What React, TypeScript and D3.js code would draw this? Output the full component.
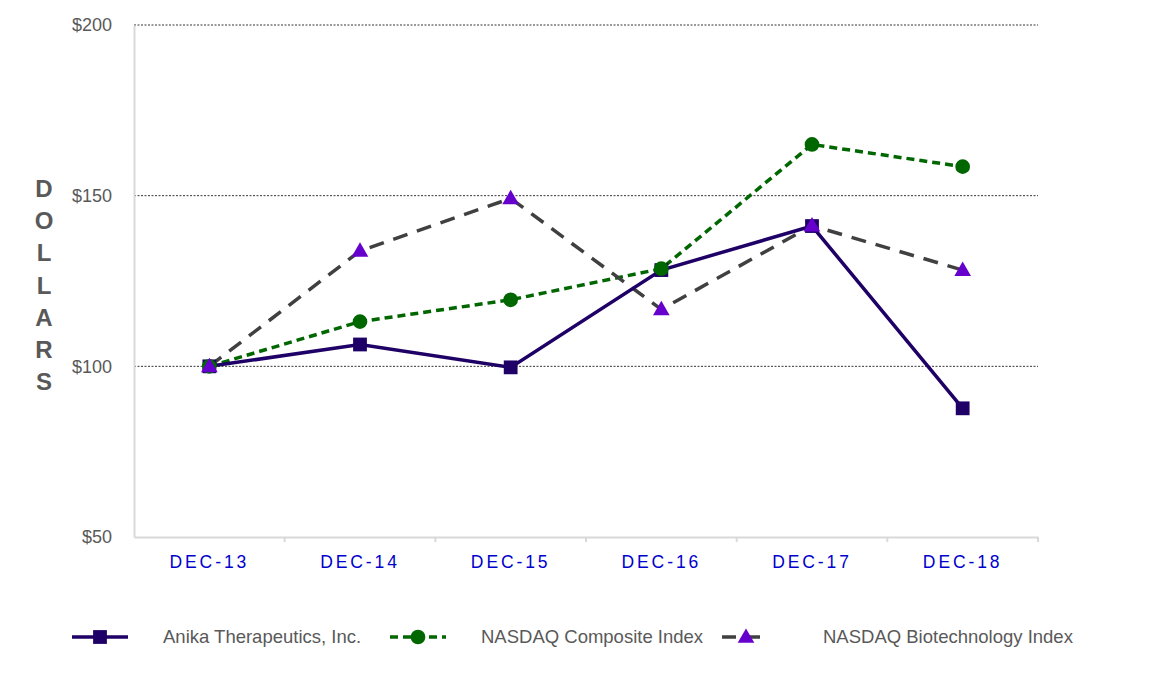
import { useEffect, useRef } from 'react';
import * as d3 from 'd3';

const categories = ['DEC-13', 'DEC-14', 'DEC-15', 'DEC-16', 'DEC-17', 'DEC-18'];
const anika = [100, 106.4, 99.7, 128.2, 141.1, 87.7];
const composite = [100, 113.1, 119.5, 128.6, 165.0, 158.5];
const biotech = [100, 133.8, 149.2, 116.7, 141.2, 128.2];
const yTicks = [50, 100, 150, 200];
const seriesNames = ['Anika Therapeutics, Inc.', 'NASDAQ Composite Index', 'NASDAQ Biotechnology Index'];

const W = 1154;
const H = 693;
const M = { top: 25, right: 116, bottom: 156, left: 134 };

const App = () => {
  const svgElem = useRef<SVGSVGElement>(null);

  useEffect(() => {
    if (!svgElem.current) return;
    const svg = d3.select(svgElem.current);
    svg.selectAll('*').remove();

    const x = d3
      .scaleBand()
      .domain(categories)
      .range([M.left, W - M.right]);
    const y = d3
      .scaleLinear()
      .domain([50, 200])
      .range([H - M.bottom, M.top]);

    const font = 'Arial, "Liberation Sans", sans-serif';

    // gridlines
    svg
      .append('g')
      .selectAll('line')
      .data(yTicks.filter((t) => t > 50))
      .join('line')
      .attr('x1', M.left)
      .attr('x2', W - M.right)
      .attr('y1', (d) => y(d))
      .attr('y2', (d) => y(d))
      .attr('stroke', '#000')
      .attr('stroke-width', 0.8)
      .attr('stroke-dasharray', '2,1.5');

    // y axis
    const yAxis = svg
      .append('g')
      .attr('transform', `translate(${M.left},0)`)
      .call(d3.axisLeft(y).tickValues(yTicks).tickSize(0).tickPadding(22).tickFormat((d) => `$${d}`));
    yAxis.select('.domain').attr('stroke', '#d9d9d9').attr('stroke-width', 2);
    yAxis
      .selectAll('text')
      .attr('fill', '#595959')
      .style('font-family', font)
      .style('font-size', '18px');

    // x axis
    const xAxis = svg
      .append('g')
      .attr('transform', `translate(0,${y(50)})`)
      .call(d3.axisBottom(x).tickSize(0).tickPadding(19));
    xAxis.select('.domain').attr('stroke', '#d9d9d9').attr('stroke-width', 2);
    xAxis
      .selectAll('text')
      .attr('fill', '#0000cc')
      .style('font-family', font)
      .style('font-size', '17.5px')
      .style('letter-spacing', '2.9px');
    // tick marks at category boundaries
    xAxis
      .append('g')
      .selectAll('line')
      .data(categories)
      .join('line')
      .attr('x1', (d) => (x(d) as number) + x.bandwidth())
      .attr('x2', (d) => (x(d) as number) + x.bandwidth())
      .attr('y1', 0)
      .attr('y2', 5)
      .attr('stroke', '#d9d9d9')
      .attr('stroke-width', 2);

    // y axis title
    svg
      .append('g')
      .selectAll('text')
      .data('DOLLARS'.split(''))
      .join('text')
      .attr('x', 44)
      .attr('y', (_, i) => 197 + i * 32.2)
      .attr('text-anchor', 'middle')
      .attr('fill', '#595959')
      .style('font-family', font)
      .style('font-size', '24px')
      .style('font-weight', 'bold')
      .text((d) => d);

    const cx = (i: number) => (x(categories[i]) as number) + x.bandwidth() / 2;
    const line = d3
      .line<number>()
      .x((_, i) => cx(i))
      .y((d) => y(d));

    const styles = [
      { data: anika, stroke: '#1f0066', dash: null as string | null },
      { data: composite, stroke: '#006600', dash: '8,5' },
      { data: biotech, stroke: '#404040', dash: '15,10' },
    ];

    const square = d3.symbol(d3.symbolSquare, 190);
    const circle = d3.symbol(d3.symbolCircle, 170);
    const triangle = d3.symbol(d3.symbolTriangle, 120);

    const drawMarker = (g: d3.Selection<SVGGElement, unknown, null, undefined>, k: number, px: number, py: number) => {
      if (k === 0) {
        g.append('path').attr('d', square()).attr('transform', `translate(${px},${py})`).attr('fill', '#1f0066');
      } else if (k === 1) {
        g.append('path').attr('d', circle()).attr('transform', `translate(${px},${py})`).attr('fill', '#006600');
      } else {
        g.append('path').attr('d', triangle()).attr('transform', `translate(${px},${py + 1})`).attr('fill', '#6600cc');
      }
    };

    // lines
    [1, 2, 0].forEach((k) => {
      const s = styles[k];
      svg
        .append('path')
        .attr('d', line(s.data))
        .attr('fill', 'none')
        .attr('stroke', s.stroke)
        .attr('stroke-width', 3.5)
        .attr('stroke-dasharray', s.dash);
    });

    // markers
    const mg = svg.append('g');
    [0, 1, 2].forEach((k) => {
      styles[k].data.forEach((v, i) => drawMarker(mg, k, cx(i), y(v)));
    });

    // legend
    const legendY = 637;
    const legendItems = [
      { x0: 72, x1: 128, mx: 100, tx: 163 },
      { x0: 390, x1: 446, mx: 418, tx: 481 },
      { x0: 722, x1: 762, mx: 746, tx: 823 },
    ];
    const lg = svg.append('g');
    legendItems.forEach((it, k) => {
      lg.append('line')
        .attr('x1', it.x0)
        .attr('x2', it.x1)
        .attr('y1', legendY)
        .attr('y2', legendY)
        .attr('stroke', styles[k].stroke)
        .attr('stroke-width', 3.5)
        .attr('stroke-dasharray', k === 1 ? '8,5' : k === 2 ? '14,10' : null);
      drawMarker(lg, k, it.mx, legendY);
      lg.append('text')
        .attr('x', it.tx)
        .attr('y', legendY)
        .attr('dy', '0.35em')
        .attr('fill', '#595959')
        .style('font-family', font)
        .style('font-size', '18.5px')
        .text(seriesNames[k]);
    });
  }, []);

  return (
    <svg
      ref={svgElem}
      width={W}
      height={H}
      style={{ position: 'absolute', left: 0, top: 0, background: '#fff' }}
    />
  );
};

export default App;
